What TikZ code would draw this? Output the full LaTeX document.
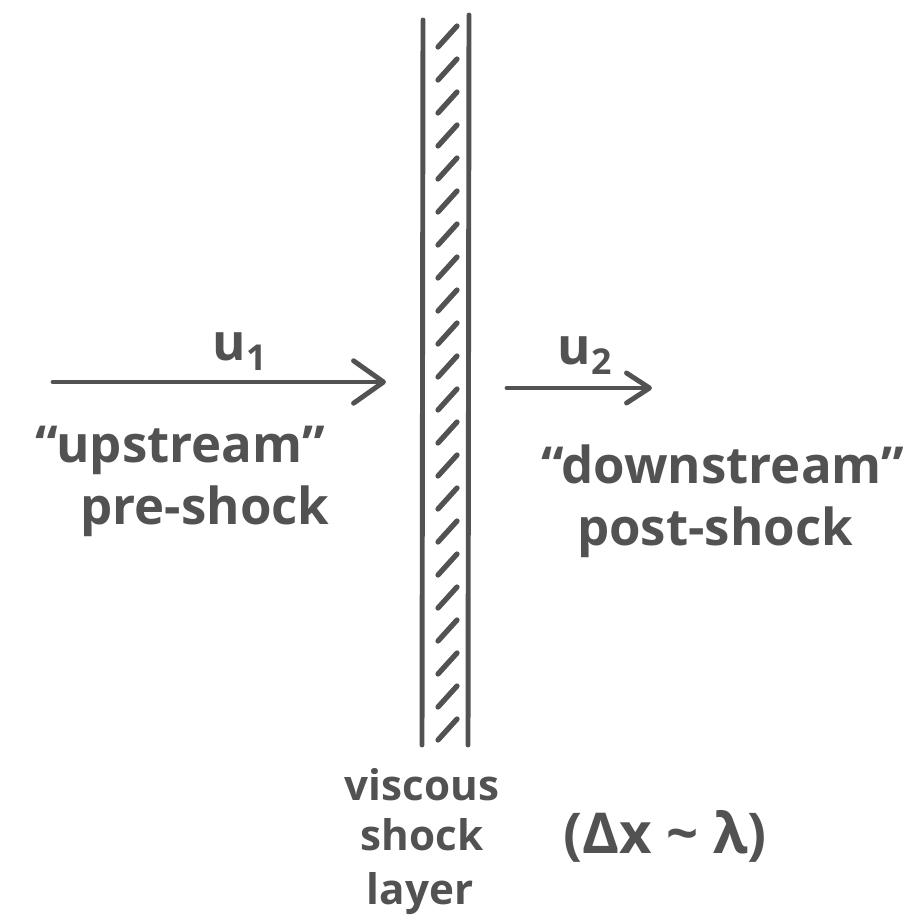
\documentclass[tikz,border=0pt]{standalone}
\usepackage{fontspec}
\setmainfont{Open Sans}
\usepackage{tikz}
\usetikzlibrary{
  arrows.meta,
  positioning,
  calc
}
\definecolor{pencilgray}{RGB}{82,82,82}
\tikzset{
  handtext/.style={
    text=pencilgray,
    inner sep=0pt,
    anchor=base,
    font=\fontsize{29}{34}\selectfont\bfseries
  },
  smalltext/.style={handtext,font=\fontsize{24}{28}\selectfont\bfseries},
  wallline/.style={draw=pencilgray,line width=2.8pt,line cap=round},
  hatchline/.style={draw=pencilgray,line width=3pt,line cap=round},
  flowarrow/.style={draw=pencilgray,line width=2.8pt,line cap=round,
    -{Straight Barb[length=6mm,width=8.5mm,round]}},
  slowarrow/.style={flowarrow,
    -{Straight Barb[length=4.6mm,width=6mm,round]}},
}

\begin{document}
\begin{tikzpicture}[x=0.02cm,y=-0.02cm]
  \useasboundingbox (0,0) rectangle (922,924);

  % Shock layer
  \draw[wallline] (423,20) -- (422,745);
  \draw[wallline] (469,15) -- (468,745);
  \foreach \y in {47,80,...,740}
    \draw[hatchline] (438,\y) -- ++(19,-21);

  % Upstream side
  \coordinate (inA) at (53,382);
  \coordinate (inB) at (386,382);
  \draw[flowarrow] (inA) -- (inB);
  \node[handtext] (uone) at (240,360) {u\textsubscript{1}};
  \node[handtext] (upstream) at (180,462) {“upstream”};
  \node[handtext] (preshock) at (205,524) {pre-shock};

  % Downstream side
  \coordinate (outA) at (507,388);
  \coordinate (outB) at (652,388);
  \draw[slowarrow] (outA) -- (outB);
  \node[handtext] (utwo) at (585,364) {u\textsubscript{2}};
  \node[handtext] (downstream) at (723,483) {“downstream”};
  \node[handtext] (postshock) at (715,545) {post-shock};

  % Layer label
  \node[smalltext] (viscous) at (422,800) {viscous};
  \node[smalltext] (shock) at (422,850) {shock};
  \node[smalltext] (layer) at (420,904) {layer};
  \node[handtext,font=\fontsize{32}{36}\selectfont\bfseries] (width) at (665,853) {(Δx \textasciitilde\ λ)};
\end{tikzpicture}
\end{document}
